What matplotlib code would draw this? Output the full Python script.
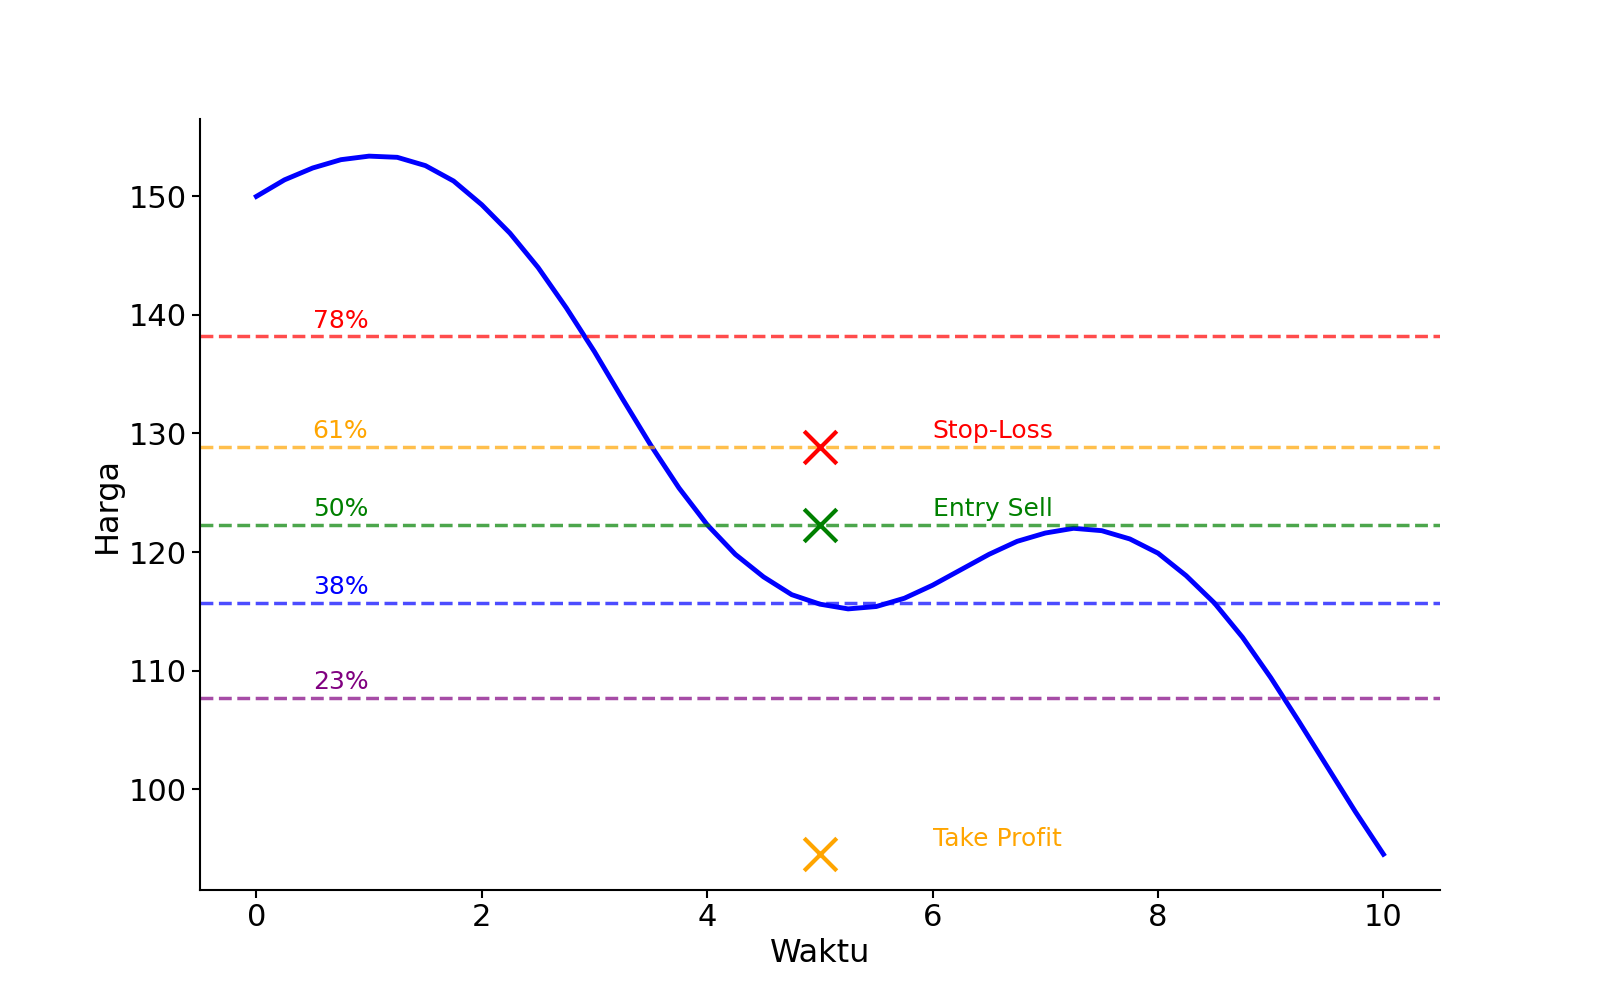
import matplotlib
matplotlib.use("Agg")
import matplotlib.pyplot as plt

waktu = [0, 0.25, 0.5, 0.75, 1.0, 1.25, 1.5, 1.75, 2.0, 2.25, 2.5, 2.75, 3.0, 3.25, 3.5, 3.75, 4.0, 4.25, 4.5, 4.75, 5.0,
         5.25, 5.5, 5.75, 6.0, 6.25, 6.5, 6.75, 7.0, 7.25, 7.5, 7.75, 8.0, 8.25, 8.5, 8.75, 9.0, 9.25, 9.5, 9.75, 10.0]
harga = [150.0, 151.4, 152.4, 153.1, 153.4, 153.3, 152.6, 151.3, 149.3, 146.9, 144.0, 140.6, 136.9, 132.9, 129.0, 125.4, 122.3, 119.8, 117.9, 116.4, 115.6,
         115.2, 115.4, 116.1, 117.2, 118.5, 119.8, 120.9, 121.6, 122.0, 121.8, 121.1, 119.9, 118.0, 115.7, 112.8, 109.4, 105.7, 101.9, 98.1, 94.5]

fib_labels = ["78%", "61%", "50%", "38%", "23%"]
fib_levels = [138.2, 128.9, 122.3, 115.7, 107.7]
fib_colors = ["red", "orange", "green", "blue", "purple"]

point_labels = ["Stop-Loss", "Entry Sell", "Take Profit"]
point_x = [5, 5, 5]
point_y = [128.9, 122.3, 94.5]
point_colors = ["red", "green", "orange"]

W, H = 1568, 980
fig = plt.figure(figsize=(16, 10), dpi=100)
ax = fig.add_axes([196/W, 1-872/H, (1411-196)/W, (872-117)/H])
ax.plot(waktu, harga, color="blue", lw=3.5)
for lab, lv, c in zip(fib_labels, fib_levels, fib_colors):
    ax.axhline(lv, color=c, ls="--", lw=2.5, alpha=0.7)
    ax.text(0.5, lv + 0.3, lab, color=c, fontsize=18, va="bottom")
for lab, x, y, c in zip(point_labels, point_x, point_y, point_colors):
    ax.scatter([x], [y], marker="x", s=550, color=c, linewidths=3, zorder=5)
    ax.text(x + 1, y + 0.3, lab, color=c, fontsize=18, va="bottom")
ax.set_xlim(-0.5, 10.5)
ax.set_ylim(91.5, 156.5)
ax.set_xticks([0, 2, 4, 6, 8, 10])
ax.set_yticks([100, 110, 120, 130, 140, 150])
ax.tick_params(labelsize=22, length=6, width=1.5)
for s in ["top", "right"]:
    ax.spines[s].set_visible(False)
for s in ["left", "bottom"]:
    ax.spines[s].set_linewidth(1.5)
ax.set_xlabel("Waktu", fontsize=23)
ax.set_ylabel("Harga", fontsize=23)
fig.savefig("out.png")
